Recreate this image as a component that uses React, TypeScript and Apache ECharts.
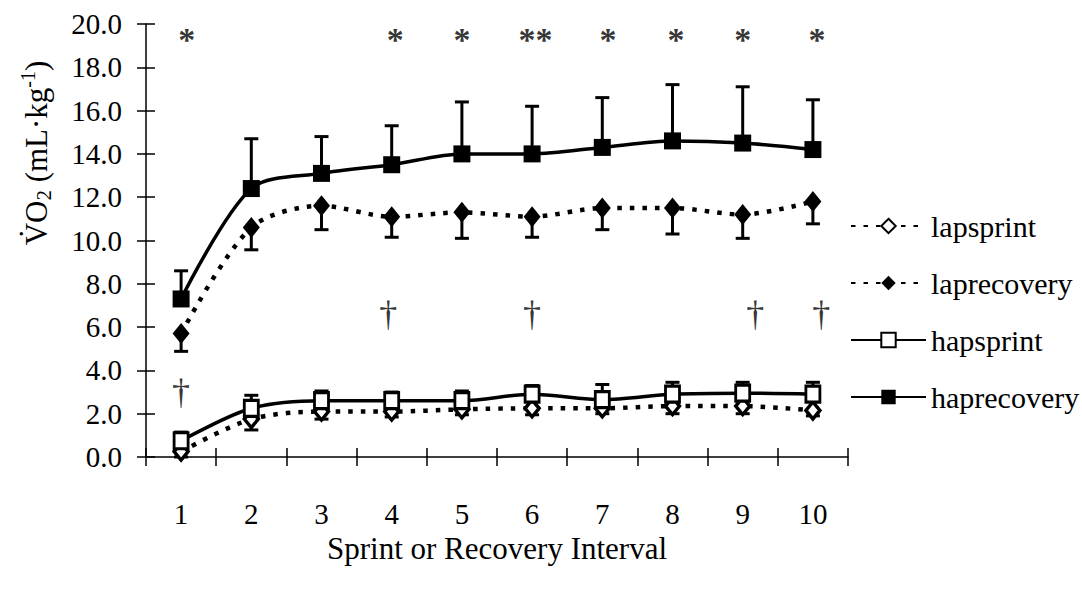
import React, { useEffect, useRef } from "react";
import * as echarts from "echarts";

const categories = ["1", "2", "3", "4", "5", "6", "7", "8", "9", "10"];
const yTicks = [0, 20, 2];

const lapSprint = [0.25, 1.75, 2.1, 2.1, 2.2, 2.25, 2.25, 2.35, 2.35, 2.15];
const lapSprintSD = [0.25, 0.5, 0.35, 0.25, 0.25, 0.3, 0.25, 0.35, 0.35, 0.25];
const lapRecovery = [5.7, 10.6, 11.6, 11.1, 11.3, 11.1, 11.5, 11.5, 11.2, 11.8];
const lapRecoverySD = [0.82, 1.03, 1.1, 0.95, 1.2, 0.95, 1.0, 1.2, 1.1, 1.03];
const hapSprint = [0.75, 2.25, 2.6, 2.6, 2.6, 2.9, 2.65, 2.9, 2.95, 2.9];
const hapSprintSD = [0.4, 0.6, 0.45, 0.4, 0.45, 0.4, 0.7, 0.55, 0.5, 0.55];
const hapRecovery = [7.3, 12.4, 13.1, 13.5, 14.0, 14.0, 14.3, 14.6, 14.5, 14.2];
const hapRecoverySD = [1.3, 2.3, 1.7, 1.8, 2.4, 2.2, 2.3, 2.6, 2.6, 2.3];

// significance marks: [interval position, value, text]
const asterisks: [number, number, string][] = [
  [1.08, 19.3, "*"],
  [4.05, 19.3, "*"],
  [5.0, 19.3, "*"],
  [6.05, 19.3, "**"],
  [7.08, 19.3, "*"],
  [8.05, 19.3, "*"],
  [9.0, 19.3, "*"],
  [10.06, 19.3, "*"],
];
const daggers: [number, number, string][] = [
  [1.0, 3.0, "†"],
  [3.95, 6.6, "†"],
  [6.0, 6.6, "†"],
  [9.18, 6.6, "†"],
  [10.12, 6.6, "†"],
];

const FONT = "Liberation Serif";

function pts(vals: number[]) {
  return vals.map((v, i) => [i + 1, v]);
}
function errs(vals: number[], sd: number[], dir: number) {
  return vals.map((v, i) => [i + 1, v, v + dir * sd[i]]);
}

const errRender = (params: any, api: any) => {
  const x = api.value(0);
  const p0 = api.coord([x, api.value(1)]);
  const p1 = api.coord([x, api.value(2)]);
  const st = { stroke: "#000", lineWidth: 3 };
  return {
    type: "group",
    children: [
      { type: "line", shape: { x1: p0[0], y1: p0[1], x2: p1[0], y2: p1[1] }, style: st },
      { type: "line", shape: { x1: p1[0] - 7, y1: p1[1], x2: p1[0] + 7, y2: p1[1] }, style: st },
    ],
  };
};

export default function App() {
  const ref = useRef<HTMLDivElement>(null);
  useEffect(() => {
    const chart = echarts.init(ref.current!, null, { renderer: "svg" });
    const grid = { left: 146, top: 24, width: 702, height: 433 };
    const axisLine = { show: true, lineStyle: { color: "#000", width: 1.5 } };
    const lineSeries = (name: string, data: number[], symbol: string, size: any, fill: string, dotted: boolean, bw: number) => ({
      type: "line",
      name,
      xAxisIndex: 2,
      yAxisIndex: 0,
      data: pts(data),
      smooth: 0.3,
      symbol,
      symbolSize: size,
      showSymbol: true,
      z: 3,
      lineStyle: dotted
        ? { color: "#000", width: 4.5, type: [4.5, 8], cap: "butt" }
        : { color: "#000", width: 3.5 },
      itemStyle: { color: fill, borderColor: "#000", borderWidth: bw, opacity: 1 },
      emphasis: { disabled: true },
    });
    const textSeries = (data: [number, number, string][], size: number, weight: string) => ({
      type: "scatter",
      xAxisIndex: 2,
      yAxisIndex: 0,
      data,
      symbolSize: 1,
      itemStyle: { color: "rgba(0,0,0,0)" },
      silent: true,
      z: 5,
      label: {
        show: true,
        position: "inside",
        formatter: (p: any) => p.data[2],
        color: "#000",
        fontFamily: FONT,
        fontSize: size,
        fontWeight: weight,
      },
    });
    chart.setOption({
      animation: false,
      backgroundColor: "#fff",
      textStyle: { fontFamily: FONT, color: "#000" },
      grid: [grid, grid],
      xAxis: [
        {
          type: "category",
          gridIndex: 0,
          data: categories,
          boundaryGap: true,
          axisLine,
          axisTick: { show: true, inside: false, length: 9, interval: 0, lineStyle: { color: "#000", width: 1.5 } },
          axisLabel: { color: "#000", fontFamily: FONT, fontSize: 29, margin: 42 },
          name: "Sprint or Recovery Interval",
          nameLocation: "middle",
          nameGap: 76,
          nameTextStyle: { color: "#000", fontFamily: FONT, fontSize: 31 },
          splitLine: { show: false },
        },
        {
          type: "category",
          gridIndex: 1,
          data: categories,
          boundaryGap: true,
          axisLine: { show: false },
          axisTick: { show: true, inside: true, length: 9, interval: 0, lineStyle: { color: "#000", width: 1.5 } },
          axisLabel: { show: false },
          splitLine: { show: false },
        },
        { type: "value", gridIndex: 0, min: 0.5, max: 10.5, show: false, splitLine: { show: false } },
      ],
      yAxis: [
        {
          type: "value",
          gridIndex: 0,
          min: yTicks[0],
          max: yTicks[1],
          interval: yTicks[2],
          axisLine,
          axisTick: { show: true, inside: false, length: 9, lineStyle: { color: "#000", width: 1.5 } },
          axisLabel: { color: "#000", fontFamily: FONT, fontSize: 29, margin: 24, formatter: (v: number) => v.toFixed(1) },
          splitLine: { show: false },
        },
        {
          type: "value",
          gridIndex: 1,
          min: yTicks[0],
          max: yTicks[1],
          interval: yTicks[2],
          axisLine: { show: false },
          axisTick: { show: true, inside: true, length: 9, lineStyle: { color: "#000", width: 1.5 } },
          axisLabel: { show: false },
          splitLine: { show: false },
        },
      ],
      legend: {
        orient: "vertical",
        left: 845,
        top: 206,
        itemWidth: 75,
        itemHeight: 18,
        itemGap: 27,
        data: ["lapsprint", "laprecovery", "hapsprint", "haprecovery"],
        textStyle: { color: "#000", fontFamily: FONT, fontSize: 30, lineHeight: 30 },
      },
      graphic: [
        {
          type: "text",
          x: 36,
          y: 153,
          rotation: Math.PI / 2,
          style: {
            text: "{a|V\u0307O}{sub|2}{a| (mL·kg}{sup|-1}{a|)}",
            align: "center",
            verticalAlign: "middle",
            fill: "#000",
            rich: {
              a: { fontFamily: FONT, fontSize: 31, lineHeight: 36, fill: "#000" },
              sub: { fontFamily: FONT, fontSize: 21, lineHeight: 24, verticalAlign: "bottom", fill: "#000" },
              sup: { fontFamily: FONT, fontSize: 20, lineHeight: 20, verticalAlign: "top", fill: "#000" },
            },
          },
        },
      ],
      series: [
        { type: "custom", xAxisIndex: 2, yAxisIndex: 0, renderItem: errRender, data: errs(lapSprint, lapSprintSD, -1), encode: { x: 0, y: [1, 2] }, z: 1, silent: true },
        { type: "custom", xAxisIndex: 2, yAxisIndex: 0, renderItem: errRender, data: errs(lapRecovery, lapRecoverySD, -1), encode: { x: 0, y: [1, 2] }, z: 1, silent: true },
        { type: "custom", xAxisIndex: 2, yAxisIndex: 0, renderItem: errRender, data: errs(hapSprint, hapSprintSD, 1), encode: { x: 0, y: [1, 2] }, z: 1, silent: true },
        { type: "custom", xAxisIndex: 2, yAxisIndex: 0, renderItem: errRender, data: errs(hapRecovery, hapRecoverySD, 1), encode: { x: 0, y: [1, 2] }, z: 1, silent: true },
        lineSeries("lapsprint", lapSprint, "diamond", [14, 17], "#fff", true, 3.5),
        lineSeries("laprecovery", lapRecovery, "diamond", [17, 21], "#000", true, 0),
        lineSeries("hapsprint", hapSprint, "rect", [14, 16], "#fff", false, 3),
        lineSeries("haprecovery", hapRecovery, "rect", [17, 17], "#000", false, 0),
        textSeries(asterisks, 34, "bold"),
        textSeries(daggers, 36, "normal"),
      ],
    });
    return () => chart.dispose();
  }, []);
  return <div ref={ref} style={{ position: "absolute", left: 0, top: 0, width: 1082, height: 589 }} />;
}
